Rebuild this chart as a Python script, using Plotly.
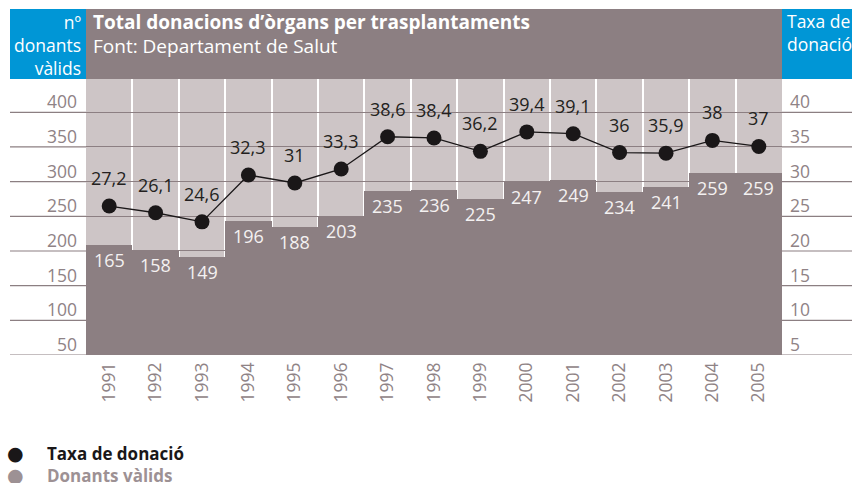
import plotly.graph_objects as go

# ---- data ----
years = [1991, 1992, 1993, 1994, 1995, 1996, 1997, 1998, 1999, 2000, 2001, 2002, 2003, 2004, 2005]
donants = [165, 158, 149, 196, 188, 203, 235, 236, 225, 247, 249, 234, 241, 259, 259]
taxa = [27.2, 26.1, 24.6, 32.3, 31, 33.3, 38.6, 38.4, 36.2, 39.4, 39.1, 36, 35.9, 38, 37]
left_grid_vals = [0, 50, 100, 150, 200, 250, 300, 350]
left_tick_labels = ["50", "100", "150", "200", "250", "300", "350", "400"]
right_grid_vals = [0, 5, 10, 15, 20, 25, 30, 35]
right_tick_labels = ["5", "10", "15", "20", "25", "30", "35", "40"]

# ---- styles ----
FONT = "Open Sans"
DARK = "#8c7f82"
LIGHT = "#cdc5c6"
BLUE = "#0096d6"
GRID = "#8c7f82"
TICK = "#8f8386"
LEG2 = "#9d9194"

W, H = 852, 483
L, R, T, B = 86, 782, 79, 355


def px(x):
    return (x - L) / (R - L)


def py(y):
    return (B - y) / (B - T)


def fmt(v):
    return f"{v:g}".replace(".", ",")


fig = go.Figure()

fig.add_trace(go.Bar(
    x=years, y=donants, yaxis="y", width=1.0,
    marker=dict(color=DARK, line=dict(width=0)),
    hoverinfo="skip", showlegend=False,
))
fig.add_trace(go.Scatter(x=[], y=[], yaxis="y2", showlegend=False, hoverinfo="skip"))
fig.add_trace(go.Scatter(x=[], y=[], yaxis="y3", showlegend=False, hoverinfo="skip"))
fig.add_trace(go.Scatter(
    x=years, y=taxa, yaxis="y4", mode="lines+markers",
    line=dict(color="#1a1718", width=1.3),
    marker=dict(color="#1a1718", size=15),
    hoverinfo="skip", showlegend=False, cliponaxis=False,
))

annotations = []
for yr, v in zip(years, donants):
    annotations.append(dict(x=yr, y=v, xref="x", yref="y", yshift=-15, text=str(v),
                            showarrow=False, font=dict(family=FONT, size=18, color="#f4f1f1")))
for yr, v in zip(years, taxa):
    annotations.append(dict(x=yr, y=v, xref="x", yref="y4", yshift=28, text=fmt(v),
                            showarrow=False, font=dict(family=FONT, size=18, color="#231f20")))

# header texts
annotations += [
    dict(x=px(91), y=py(22), xref="paper", yref="paper", xanchor="left", yanchor="middle",
         text="<b>Total donacions d’òrgans per trasplantaments</b>", showarrow=False,
         font=dict(family=FONT, size=19, color="white")),
    dict(x=px(91), y=py(46), xref="paper", yref="paper", xanchor="left", yanchor="middle",
         text="Font: Departament de Salut", showarrow=False,
         font=dict(family=FONT, size=19, color="white")),
    dict(x=px(83), y=py(45), xref="paper", yref="paper", xanchor="right", yanchor="middle",
         text="nº<br>donants<br>vàlids", align="right", showarrow=False,
         font=dict(family=FONT, size=17.5, color="white")),
    dict(x=px(785), y=py(33), xref="paper", yref="paper", xanchor="left", yanchor="middle",
         text="Taxa de<br>donació", align="left", showarrow=False,
         font=dict(family=FONT, size=17.5, color="white")),
    # legend
    dict(x=px(15), y=py(453), xref="paper", yref="paper", xanchor="center", yanchor="middle",
         text="●", showarrow=False, font=dict(family="DejaVu Sans", size=19, color="#1a1718")),
    dict(x=px(45), y=py(453), xref="paper", yref="paper", xanchor="left", yanchor="middle",
         text="<b>Taxa de donació</b>", showarrow=False, font=dict(family=FONT, size=17, color="#1a1718")),
    dict(x=px(15), y=py(475), xref="paper", yref="paper", xanchor="center", yanchor="middle",
         text="●", showarrow=False, font=dict(family="DejaVu Sans", size=19, color=LEG2)),
    dict(x=px(45), y=py(475), xref="paper", yref="paper", xanchor="left", yanchor="middle",
         text="<b>Donants vàlids</b>", showarrow=False, font=dict(family=FONT, size=17, color=LEG2)),
]

shapes = [
    dict(type="rect", xref="paper", yref="paper", x0=0, x1=1, y0=1, y1=py(9),
         fillcolor=DARK, line=dict(width=0), layer="above"),
    dict(type="rect", xref="paper", yref="paper", x0=px(10), x1=0, y0=1, y1=py(9),
         fillcolor=BLUE, line=dict(width=0), layer="above"),
    dict(type="rect", xref="paper", yref="paper", x0=1, x1=px(860), y0=1, y1=py(9),
         fillcolor=BLUE, line=dict(width=0), layer="above"),
]
for v in left_grid_vals:
    shapes.append(dict(type="line", xref="paper", yref="y2", x0=px(10), x1=0, y0=v, y1=v,
                       line=dict(color=GRID, width=1.2), layer="above"))
    shapes.append(dict(type="line", xref="paper", yref="y2", x0=1, x1=px(860), y0=v, y1=v,
                       line=dict(color=GRID, width=1.2), layer="above"))

fig.update_layout(
    width=W, height=H,
    margin=dict(l=L, r=W - R, t=T, b=H - B, pad=0),
    paper_bgcolor="white", plot_bgcolor=LIGHT,
    bargap=0,
    xaxis=dict(range=[1990.5, 2005.5], tickvals=years, ticktext=[str(y) for y in years],
               tickangle=-90, showgrid=False, zeroline=False, showline=False,
               ticks="", ticklabelstandoff=3,
               tickfont=dict(family=FONT, size=17.5, color=TICK),
               minor=dict(tick0=1990.5, dtick=1, showgrid=True, gridcolor="white", gridwidth=1.5)),
    yaxis=dict(range=[22.1, 380.8], showgrid=False, showticklabels=False, zeroline=False, ticks=""),
    yaxis2=dict(range=[0, 398], overlaying="y", side="left", tickvals=left_grid_vals,
                ticktext=left_tick_labels, showgrid=True, gridcolor=GRID, gridwidth=1.2,
                zeroline=False, ticks="", ticklabelshift=-10, ticklabelstandoff=8,
                tickfont=dict(family=FONT, size=17.5, color=TICK)),
    yaxis3=dict(range=[0, 39.8], overlaying="y", side="right", tickvals=right_grid_vals,
                ticktext=right_tick_labels, showgrid=False, zeroline=False, ticks="",
                ticklabelshift=-10, ticklabelstandoff=7,
                tickfont=dict(family=FONT, size=17.5, color=TICK)),
    yaxis4=dict(range=[2.7, 48.1], overlaying="y", visible=False),
    annotations=annotations,
    shapes=shapes,
    showlegend=False,
)

fig.write_html("out.html", config={"displayModeBar": False},
               post_script="document.body.style.margin='0';document.body.style.overflow='hidden';")
